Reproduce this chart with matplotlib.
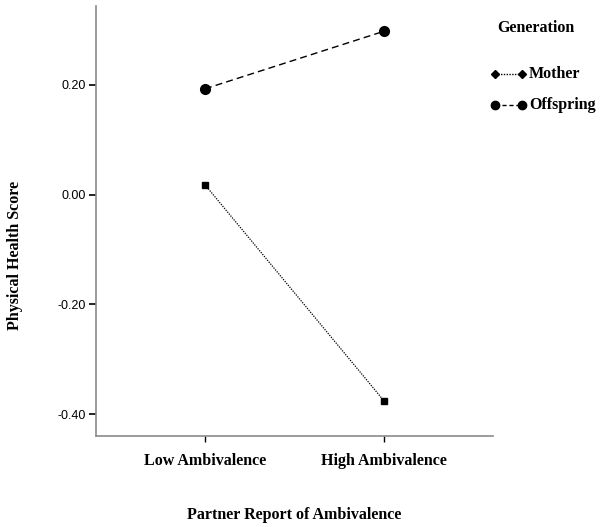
import matplotlib
matplotlib.use("Agg")
import matplotlib.pyplot as plt
from matplotlib.lines import Line2D

categories = ["Low Ambivalence", "High Ambivalence"]
mother = [0.018, -0.376]
offspring = [0.193, 0.298]
yticks = [-0.40, -0.20, 0.00, 0.20]

serif = "Liberation Serif"
sans = "Liberation Sans"
W, H = 600, 527

fig = plt.figure(figsize=(6, 5.27), dpi=100)
ax = fig.add_axes([0.16, 0.1727, 0.6617, 0.8159])

x = range(len(categories))
ax.plot(x, mother, color="black", linestyle=(0, (1, 1)), linewidth=0.9,
        marker="s", markersize=5)
ax.plot(x, offspring, color="black", linestyle=(0, (5, 3)), linewidth=1.0,
        marker="o", markersize=7)

ax.set_xlim(-0.609, 1.609)
ax.set_ylim(-0.44, 0.344)
ax.set_xticks(list(x))
ax.set_xticklabels(categories, fontfamily=serif, fontweight="bold", fontsize=11.5)
ax.set_yticks(yticks)
ax.set_yticklabels(["%.2f" % v for v in yticks], fontfamily=sans, fontsize=9)

for s in ["top", "right"]:
    ax.spines[s].set_visible(False)
for s in ["left", "bottom"]:
    ax.spines[s].set_color("#8a8a8a")
    ax.spines[s].set_linewidth(1.2)
ax.tick_params(axis="y", length=5, width=1.2, color="black", pad=2)
ax.tick_params(axis="x", length=4, width=1, color="black", pad=8)

# axis titles
fig.text(294 / W, 1 - 515 / H, "Partner Report of Ambivalence", fontfamily=serif,
         fontweight="bold", fontsize=11.5, ha="center", va="center")
fig.text(15 / W, 1 - 255 / H, "Physical Health Score", fontfamily=serif,
         fontweight="bold", fontsize=11.5, ha="center", va="center",
         rotation=90)

# legend drawn by hand
fig.text(497 / W, 1 - 28 / H, "Generation", fontfamily=serif,
         fontweight="bold", fontsize=11.5, ha="left", va="center")
leg_rows = [
    ("Mother", 74, (0, (1, 1)), "D", 4),
    ("Offspring", 105, (0, (3, 2)), "o", 6),
]
for label, py, ls, mk, ms in leg_rows:
    fy = 1 - py / H
    fig.add_artist(Line2D([495 / W, 522 / W], [fy, fy], color="black",
                          linestyle=ls, linewidth=1.0, marker=mk,
                          markersize=ms, transform=fig.transFigure))
    fig.text(529 / W, fy, label, fontfamily=serif, fontweight="bold",
             fontsize=11.5, ha="left", va="center")

fig.savefig("out.png", dpi=100)
